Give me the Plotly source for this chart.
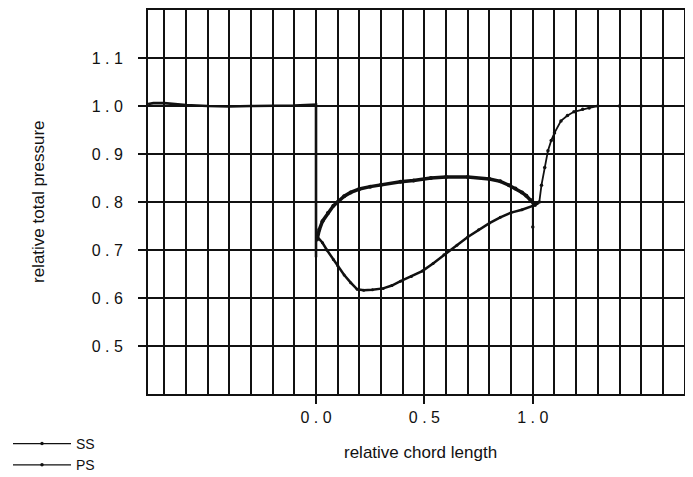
import plotly.graph_objects as go

# ---- data ----
up_x = [-0.775, -0.75, -0.7, -0.65, -0.6, -0.5, -0.4, -0.3, -0.2, -0.1, 0.0, 0.0]
up_y = [1.004, 1.006, 1.006, 1.004, 1.002, 1.0, 0.999, 1.0, 1.0, 1.001, 1.003, 0.685]

ss_x = [0.005, 0.015, 0.03, 0.055, 0.08, 0.1, 0.13, 0.16, 0.2, 0.25, 0.3, 0.39, 0.45,
        0.53, 0.6, 0.7, 0.8, 0.85, 0.89, 0.92, 0.95, 0.97, 0.99, 1.01]
ss_y = [0.722, 0.742, 0.76, 0.777, 0.792, 0.80, 0.812, 0.82, 0.827, 0.832, 0.836, 0.842,
        0.845, 0.85, 0.852, 0.852, 0.848, 0.843, 0.835, 0.828, 0.82, 0.813, 0.804, 0.794]

ps_x = [0.005, 0.03, 0.05, 0.08, 0.1, 0.13, 0.16, 0.19, 0.22, 0.26, 0.31, 0.35, 0.39,
        0.44, 0.49, 0.54, 0.59, 0.65, 0.7, 0.75, 0.8, 0.85, 0.9, 0.95, 1.0]
ps_y = [0.728, 0.715, 0.70, 0.68, 0.667, 0.648, 0.632, 0.618, 0.616, 0.617, 0.62, 0.626,
        0.635, 0.645, 0.656, 0.672, 0.69, 0.71, 0.727, 0.742, 0.756, 0.768, 0.778, 0.784, 0.792]

wk_x = [1.0, 1.0, 1.01, 1.02, 1.03, 1.04, 1.055, 1.07, 1.085, 1.1, 1.13, 1.16, 1.19, 1.23,
        1.26, 1.3, 1.4, 1.5, 1.6, 1.74]
wk_y = [0.748, 0.80, 0.795, 0.797, 0.80, 0.835, 0.872, 0.907, 0.928, 0.944, 0.969, 0.98,
        0.988, 0.993, 0.996, 1.0, 1.0, 1.0, 1.0, 1.0]

series_names = ["SS", "PS"]
y_ticks = [0.5, 0.6, 0.7, 0.8, 0.9, 1.0, 1.1]
y_ticktext = ["0 . 5", "0 . 6", "0 . 7", "0 . 8", "0 . 9", "1 . 0", "1 . 1"]
x_ticks = [0.0, 0.5, 1.0]
x_ticktext = ["0 . 0", "0 . 5", "1 . 0"]

FONT = "Liberation Sans, Arial, sans-serif"
INK = "#111111"

# page body has an 8px default margin: figure is drawn 8px in from the window's corner
W, H = 685, 469
L, T, B = 140, 2, 83

fig = go.Figure()
fig.add_trace(go.Scatter(x=up_x, y=up_y, mode="lines", line=dict(color=INK, width=2.6),
                         showlegend=False, hoverinfo="skip"))
fig.add_trace(go.Scatter(x=ss_x, y=ss_y, mode="lines+markers", name=series_names[0],
                         legendgroup="ss", showlegend=False,
                         line=dict(color=INK, width=3.5), marker=dict(color=INK, size=4)))
fig.add_trace(go.Scatter(x=ps_x, y=ps_y, mode="lines+markers", name=series_names[1],
                         legendgroup="ps", showlegend=False,
                         line=dict(color=INK, width=2.5), marker=dict(color=INK, size=3)))
fig.add_trace(go.Scatter(x=wk_x, y=wk_y, mode="lines+markers", line=dict(color=INK, width=1.8),
                         marker=dict(color=INK, size=3.5), showlegend=False, hoverinfo="skip"))
# legend entries (thin line with dots, as in the original key)
for nm, grp in zip(series_names, ["ss", "ps"]):
    fig.add_trace(go.Scatter(x=[None], y=[None], mode="lines+markers", name=nm,
                             legendgroup=grp, line=dict(color=INK, width=1.2),
                             marker=dict(color=INK, size=3.5)))

fig.update_layout(
    width=W, height=H,
    margin=dict(l=L, r=0, t=T, b=B, autoexpand=False),
    paper_bgcolor="white", plot_bgcolor="white",
    font=dict(family=FONT, color=INK),
    legend=dict(xref="container", yref="container", x=0, y=1 - (428 - 8) / H,
                xanchor="left", yanchor="top",
                font=dict(size=14, family=FONT), bgcolor="rgba(0,0,0,0)",
                tracegroupgap=0, itemwidth=58),
    xaxis=dict(range=[-0.775, 1.739], tickvals=x_ticks, ticktext=x_ticktext,
               automargin=False,
               showgrid=True, gridcolor=INK, gridwidth=1.6,
               minor=dict(dtick=0.1, tick0=0, showgrid=True, gridcolor=INK, gridwidth=1.6,
                          ticks=""),
               showline=True, linecolor=INK, linewidth=2, mirror=True,
               ticks="outside", ticklen=8, tickwidth=1.6, tickcolor=INK,
               tickfont=dict(size=16, family=FONT, color=INK),
               ticklabelstandoff=0, zeroline=False),
    yaxis=dict(range=[0.4, 1.2], tickvals=y_ticks, ticktext=y_ticktext,
               automargin=False,
               showgrid=True, gridcolor=INK, gridwidth=1.6,
               showline=True, linecolor=INK, linewidth=2,
               ticks="outside", ticklen=8, tickwidth=1.6, tickcolor=INK,
               tickfont=dict(size=16, family=FONT, color=INK),
               ticklabelstandoff=12, zeroline=False),
    annotations=[
        dict(text="relative total pressure", xref="paper", yref="paper",
             x=(38 - 8 - L) / (W - L), y=0.5, xanchor="center", yanchor="middle",
             textangle=-90, showarrow=False,
             font=dict(size=17, family=FONT, color=INK)),
        dict(text="relative chord length", xref="paper", yref="paper",
             x=0.5, y=(H - B - (452 - 8)) / (H - T - B), xanchor="center", yanchor="middle",
             showarrow=False,
             font=dict(size=17, family=FONT, color=INK)),
    ],
)

fig.write_html("out.html")
